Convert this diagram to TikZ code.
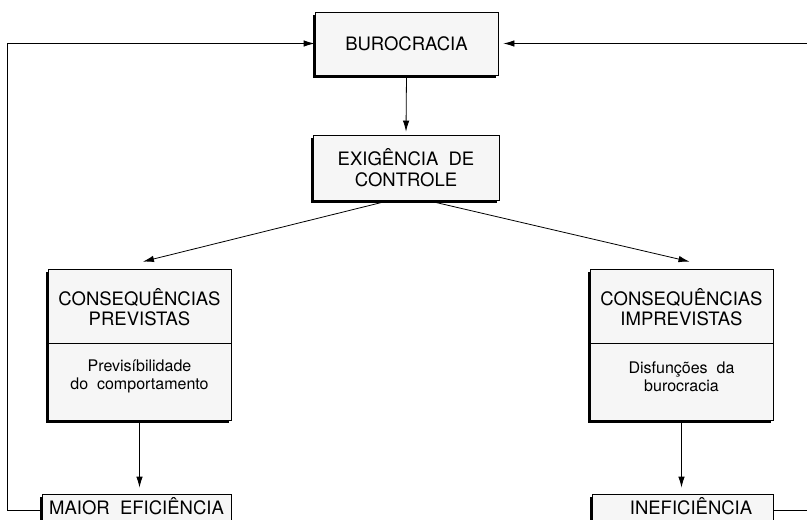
\documentclass[tikz,border=0pt]{standalone}
\usepackage{fontspec}
\setmainfont{TeX Gyre Heros}
\usetikzlibrary{arrows.meta, positioning, calc, shadows}

\tikzset{
  box/.style={draw=black, line width=0.8pt, fill=gray!7, align=center, inner sep=0pt,
    drop shadow={shadow xshift=-2.5pt, shadow yshift=-2.5pt, fill=black, opacity=1}},
  bigtext/.style={font=\fontsize{18.5}{20.5}\selectfont},
  smalltext/.style={font=\fontsize{16}{18}\selectfont},
  link/.style={line width=0.8pt, -{Latex[length=11pt, width=6.5pt]}},
}

\begin{document}
\begin{tikzpicture}[x=1pt, y=-1pt]
    \useasboundingbox (0,0) rectangle (807,520);
    \clip (0,0) rectangle (807,520);

    % Top of the chain
    \node[box, bigtext, minimum width=183pt, minimum height=63pt] (buro) at (406.5,43.5) {BUROCRACIA};
    \node[box, bigtext, minimum width=186pt, minimum height=65pt] (exig) at (406,167.5) {EXIGÊNCIA\ \ DE\\CONTROLE};

    % Consequences
    \node[box, minimum width=183pt, minimum height=151pt] (prev) at (139.5,344.5) {};
    \node[box, minimum width=183pt, minimum height=151pt] (imprev) at (681.5,344.5) {};
    \draw[line width=0.8pt] ([yshift=1.5pt]prev.west) -- ([yshift=1.5pt]prev.east);
    \draw[line width=0.8pt] ([yshift=1.5pt]imprev.west) -- ([yshift=1.5pt]imprev.east);
    \node[bigtext, align=center] (prevtitle) at (139.5,307) {CONSEQUÊNCIAS\\PREVISTAS};
    \node[smalltext, align=center] (prevtext) at (139.5,376) {Previsíbilidade\\do\ \ comportamento};
    \node[bigtext, align=center] (imprevtitle) at (681.5,307) {CONSEQUÊNCIAS\\IMPREVISTAS};
    \node[smalltext, align=center] (imprevtext) at (681.5,377) {Disfunções\ \ da\\burocracia};

    % Results
    \node[box, minimum width=189pt, minimum height=32pt] (maior) at (136.5,510) {};
    \node[box, minimum width=181pt, minimum height=32pt] (inef) at (682.5,510) {};
    \node[bigtext] (maiortext) at (136.5,506.5) {MAIOR\ \ EFICIÊNCIA};
    \node[bigtext] (ineftext) at (691,506.5) {INEFICIÊNCIA};

    % Arrows
    \draw[link] (buro.south) -- ([yshift=3pt]exig.north);
    \draw[link] ([xshift=-16pt]exig.south) -- ([xshift=3.5pt, yshift=7pt]prev.north);
    \draw[link] ([xshift=21pt]exig.south) -- ([xshift=8pt, yshift=7pt]imprev.north);
    \draw[link] (prev.south) -- ($(prev.south |- maior.north)+(0,-6)$);
    \draw[link] (imprev.south) -- ($(imprev.south |- inef.north)+(0,-6)$);

    % Feedback loops
    \draw[link] (maior.west) -- ++(-34,0) |- (buro.west);
    \draw[link] (inef.east) -- ++(60,0) |- ([xshift=5pt]buro.east);
\end{tikzpicture}
\end{document}
